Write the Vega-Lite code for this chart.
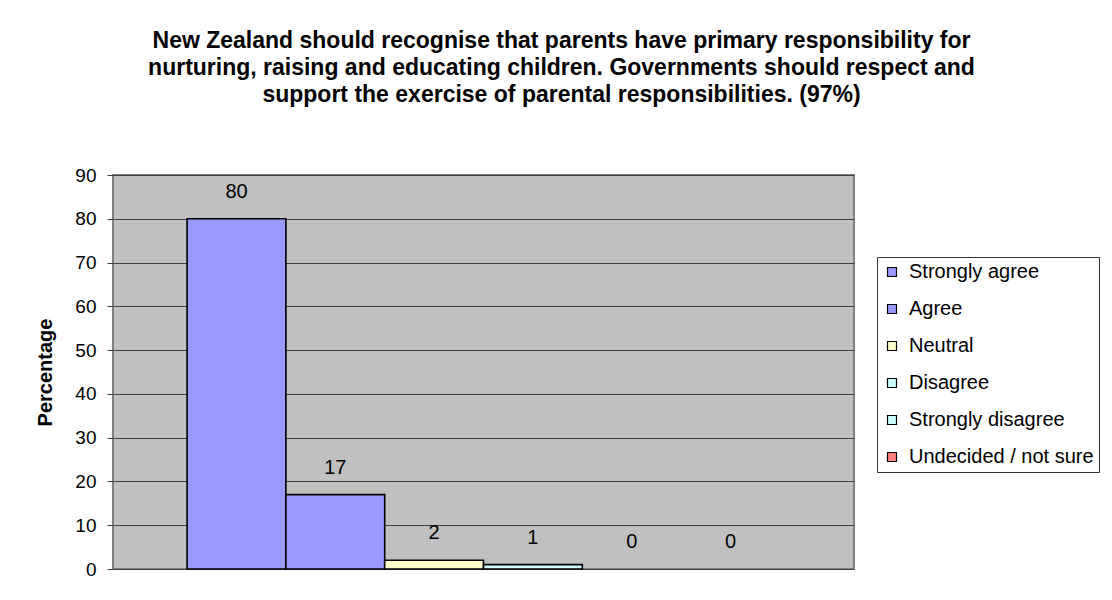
{
  "$schema": "https://vega.github.io/schema/vega-lite/v6.json",
  "width": 741,
  "height": 394,
  "autosize": {"type": "none"},
  "padding": {"left": 113, "top": 175, "right": 258, "bottom": 31},
  "background": "white",
  "title": {
    "text": [
      "New Zealand should recognise that parents have primary responsibility for",
      "nurturing, raising and educating children. Governments should respect and",
      "support the exercise of parental responsibilities. (97%)"
    ],
    "font": "Liberation Sans",
    "fontSize": 23,
    "fontWeight": "bold",
    "lineHeight": 27,
    "anchor": "middle",
    "frame": "group",
    "dx": 78,
    "offset": 59,
    "color": "black"
  },
  "data": {
    "values": [
      {"category": "Strongly agree", "value": 80},
      {"category": "Agree", "value": 17},
      {"category": "Neutral", "value": 2},
      {"category": "Disagree", "value": 1},
      {"category": "Strongly disagree", "value": 0},
      {"category": "Undecided / not sure", "value": 0}
    ]
  },
  "encoding": {
    "x": {
      "field": "category",
      "type": "nominal",
      "sort": null,
      "axis": null,
      "scale": {"paddingInner": 0, "paddingOuter": 0.75}
    },
    "y": {
      "field": "value",
      "type": "quantitative",
      "scale": {"domain": [0, 90], "nice": false},
      "axis": {
        "title": "Percentage",
        "titleFont": "Liberation Sans",
        "titleFontSize": 20,
        "titleFontWeight": "bold",
        "titleColor": "black",
        "titlePadding": 19,
        "values": [0, 10, 20, 30, 40, 50, 60, 70, 80, 90],
        "labelFont": "Liberation Sans",
        "labelFontSize": 19,
        "labelColor": "black",
        "labelPadding": 11,
        "tickSize": 6,
        "tickColor": "#404040",
        "domain": false,
        "grid": true,
        "gridColor": "#404040",
        "gridWidth": 1,
        "gridOpacity": 1
      }
    }
  },
  "layer": [
    {
      "transform": [{"filter": "datum.value > 0"}],
      "mark": {"type": "bar", "stroke": "black", "strokeWidth": 1.6, "opacity": 1},
      "encoding": {
        "color": {
          "field": "category",
          "type": "nominal",
          "sort": null,
          "scale": {
            "domain": ["Strongly agree", "Agree", "Neutral", "Disagree", "Strongly disagree", "Undecided / not sure"],
            "range": ["#9999FF", "#9999FF", "#FFFFCC", "#CCFFFF", "#CCFFFF", "#FF8080"]
          },
          "legend": {
            "title": null,
            "orient": "none",
            "legendX": 764,
            "legendY": 82,
            "strokeColor": "#333333",
            "fillColor": "white",
            "padding": 5,
            "labelFont": "Liberation Sans",
            "labelFontSize": 20,
            "labelColor": "black",
            "labelLimit": 300,
            "labelOffset": 7,
            "symbolType": "square",
            "symbolSize": 81,
            "symbolStrokeColor": "black",
            "symbolStrokeWidth": 1.2,
            "symbolOpacity": 1,
            "rowPadding": 17
          }
        }
      }
    },
    {
      "mark": {"type": "text", "baseline": "middle", "dy": -27, "font": "Liberation Sans", "fontSize": 20, "color": "black"},
      "encoding": {
        "text": {"field": "value", "type": "quantitative"}
      }
    }
  ],
  "config": {
    "view": {"fill": "#C0C0C0", "stroke": "#808080", "strokeWidth": 2}
  }
}
